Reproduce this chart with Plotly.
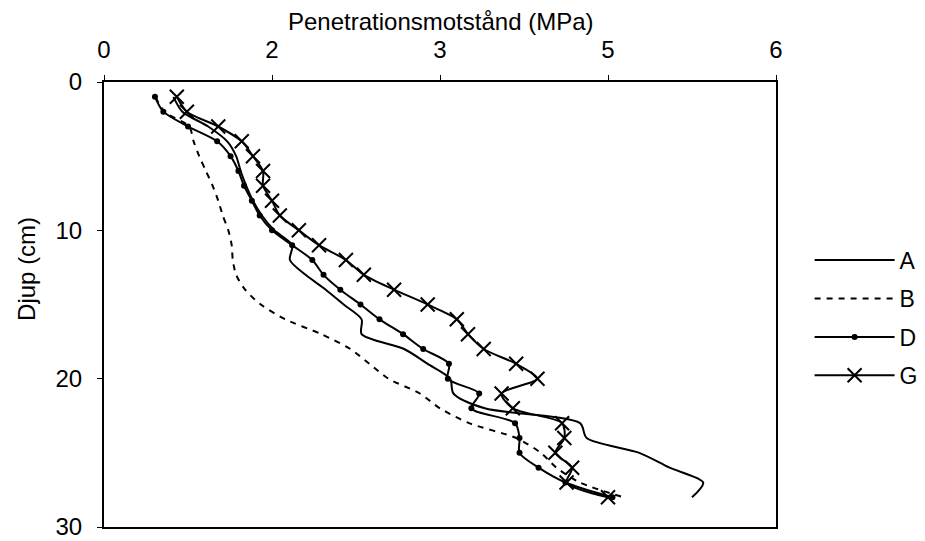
import plotly.graph_objects as go

depth_cm = [1, 2, 3, 4, 5, 6, 7, 8, 9, 10, 11, 12, 13, 14,
            15, 16, 17, 18, 19, 20, 21, 22, 23, 24, 25, 26, 27, 28]

A_mpa = [0.62, 0.70, 0.93, 1.10, 1.18, 1.22, 1.27, 1.33, 1.41, 1.52, 1.68, 1.66, 1.80, 1.98,
         2.14, 2.30, 2.30, 2.68, 2.89, 3.09, 3.12, 3.40, 4.25, 4.31, 4.78, 5.05, 5.35, 5.25]
B_mpa = [0.46, 0.54, 0.76, 0.80, 0.85, 0.91, 0.97, 1.02, 1.06, 1.11, 1.14, 1.15, 1.18, 1.26,
         1.40, 1.62, 1.94, 2.20, 2.37, 2.54, 2.82, 3.00, 3.26, 3.68, 3.90, 4.04, 4.25, 4.64]
D_mpa = [0.455, 0.53, 0.75, 1.01, 1.13, 1.20, 1.25, 1.32, 1.39, 1.50, 1.68, 1.86, 1.96, 2.11,
         2.29, 2.46, 2.67, 2.85, 3.08, 3.07, 3.35, 3.28, 3.67, 3.71, 3.71, 3.88, 4.12, 4.54]
G_mpa = [0.65, 0.74, 1.02, 1.23, 1.33, 1.42, 1.42, 1.50, 1.57, 1.74, 1.92, 2.16, 2.32, 2.59,
         2.89, 3.15, 3.25, 3.39, 3.68, 3.87, 3.55, 3.65, 4.09, 4.11, 4.03, 4.18, 4.13, 4.50]

x_tickvals = [0, 1.5, 3, 4.5, 6]
x_ticktext = ["0", "2", "3", "5", "6"]
y_tickvals = [0, 10, 20, 30]

FONT = "Arial, Liberation Sans, sans-serif"
TICK_SIZE = 24

fig = go.Figure()
fig.add_trace(go.Scatter(x=A_mpa, y=depth_cm, name="A", mode="lines", legendgroup="A",
                         line=dict(color="black", width=2, shape="spline", smoothing=0.8)))
fig.add_trace(go.Scatter(x=B_mpa, y=depth_cm, name="B", mode="lines", legendgroup="B",
                         line=dict(color="black", width=2, dash="6px,6px", shape="spline", smoothing=0.8)))
fig.add_trace(go.Scatter(x=D_mpa, y=depth_cm, name="D", mode="lines+markers", legendgroup="D",
                         line=dict(color="black", width=2, shape="spline", smoothing=0.8),
                         marker=dict(symbol="circle", size=6, color="black")))
fig.add_trace(go.Scatter(x=G_mpa, y=depth_cm, name="G", mode="lines+markers", legendgroup="G",
                         line=dict(color="black", width=2, shape="spline", smoothing=0.8),
                         marker=dict(symbol="x-thin", size=14, color="black",
                                     line=dict(color="black", width=2))))

fig.update_layout(
    width=925, height=541,
    margin=dict(l=104, r=149, t=82, b=14, autoexpand=False),
    paper_bgcolor="white", plot_bgcolor="white",
    font=dict(family=FONT, size=TICK_SIZE, color="black"),
    showlegend=True,
    legend=dict(x=1.05, y=0.648, xanchor="left", yanchor="top",
                traceorder="grouped", tracegroupgap=5.5, itemwidth=80,
                font=dict(family=FONT, size=23, color="black"),
                bgcolor="rgba(0,0,0,0)"),
    xaxis=dict(side="top", range=[0, 6], tickvals=x_tickvals, ticktext=x_ticktext,
               showgrid=False, zeroline=False, showline=True, linecolor="black", linewidth=2,
               mirror=True, ticks="outside", ticklen=5, tickwidth=1, tickcolor="black",
               ticklabelstandoff=7, ticklabeloverflow="allow",
               tickfont=dict(family=FONT, size=TICK_SIZE, color="black")),
    yaxis=dict(range=[30, 0], tickvals=y_tickvals,
               showgrid=False, zeroline=False, showline=True, linecolor="black", linewidth=2,
               mirror=True, ticks="outside", ticklen=5, tickwidth=1, tickcolor="black",
               ticklabelstandoff=10, ticklabeloverflow="allow",
               tickfont=dict(family=FONT, size=TICK_SIZE, color="black")),
    annotations=[
        dict(text="Penetrationsmotstånd (MPa)", xref="paper", yref="paper", x=0.5, y=1,
             xanchor="center", yanchor="middle", yshift=61, showarrow=False,
             font=dict(family=FONT, size=24, color="black")),
        dict(text="Djup (cm)", xref="paper", yref="paper", x=0, y=0.58, textangle=-90,
             xanchor="center", yanchor="middle", xshift=-77, showarrow=False,
             font=dict(family=FONT, size=TICK_SIZE, color="black")),
    ],
)

fig.write_html("out.html")
